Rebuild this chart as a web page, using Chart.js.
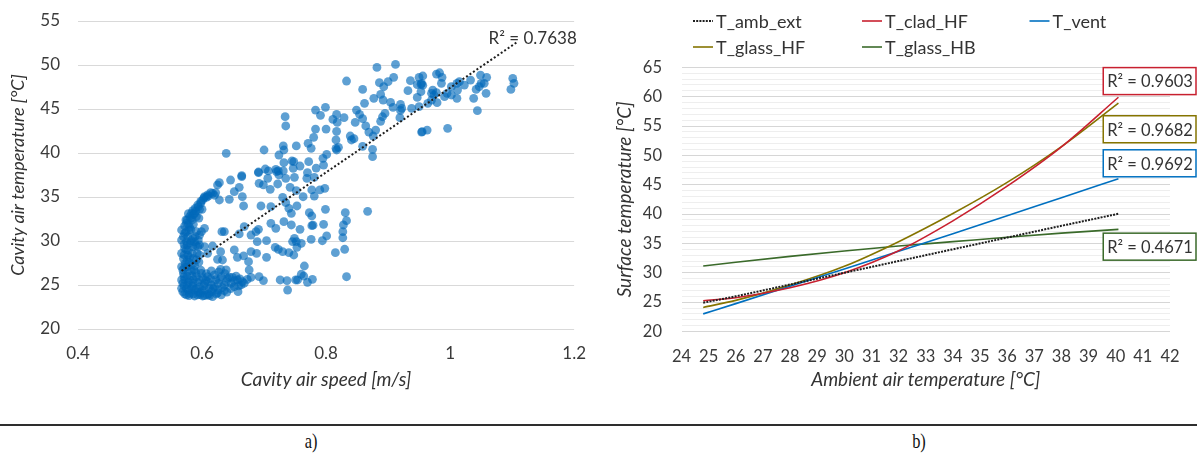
<!DOCTYPE html>
<html>
<head>
<meta charset="utf-8">
<title>Cavity air and surface temperatures</title>
<script src="https://cdn.jsdelivr.net/npm/chart.js@4.4.1/dist/chart.umd.min.js"></script>
<style>
  html, body { margin: 0; padding: 0; background: #fff; }
  #wrap { position: relative; width: 1197px; height: 455px; overflow: hidden; background: #fff; }
  #speedChart { position: absolute; left: 0; top: 0; }
  #surfChart { position: absolute; left: 600px; top: 0; }
  #rule { position: absolute; left: 0; top: 424px; width: 1197px; height: 2px; background: #2e2e2e; }
  .cap { position: absolute; top: 429px; width: 40px; text-align: center; font-family: "Liberation Serif", "DejaVu Serif", serif;
         font-size: 21px; line-height: 24px; color: #111; transform: scaleX(0.78); }
</style>
</head>
<body>
<div id="wrap">
  <canvas id="speedChart" width="600" height="400"></canvas>
  <canvas id="surfChart" width="597" height="400"></canvas>
  <div id="rule"></div>
  <div class="cap" style="left:291px">a)</div>
  <div class="cap" style="left:899px">b)</div>
</div>
<script>
// ---------- a) cavity air speed vs cavity air temperature ----------
const airSpeed = [
  0.769,0.781,0.752,0.763,0.777,0.781,0.790,0.798,0.773,0.777,0.799,0.831,0.867,0.833,0.828,0.827,0.827,0.777,0.779,0.796,
  0.758,0.801,0.794,0.776,0.752,0.760,0.753,0.815,0.830,0.765,0.760,0.764,0.778,0.770,0.751,0.833,
  0.882,0.912,0.833,0.859,0.886,0.900,0.909,0.893,0.936,0.950,0.953,0.947,0.932,0.888,0.877,0.892,0.862,0.904,0.920,0.908,
  0.922,0.938,0.947,0.783,0.799,0.791,0.817,0.811,0.818,0.829,0.849,0.854,0.847,0.859,0.864,0.869,0.876,0.839,0.845,0.880,
  0.888,0.891,0.895,0.920,0.919,0.954,0.783,0.800,0.780,0.771,0.776,0.752,0.817,0.816,0.820,0.817,0.841,0.859,0.875,0.875,
  0.801,0.795,0.796,0.784,0.772,0.758,0.770,0.816,0.748,
  0.734,0.735,0.639,0.700,0.731,0.732,0.724,0.732,0.745,0.747,0.702,0.707,0.719,0.723,0.731,0.691,0.664,
  0.956,0.954,0.953,0.978,0.983,0.987,0.986,0.972,0.970,0.974,0.978,0.970,0.964,0.979,0.991,0.995,1.002,1.011,1.015,1.012,
  1.023,1.033,1.011,1.042,1.038,1.047,1.050,1.055,1.059,1.049,1.058,1.044,1.101,1.103,1.098,0.955,0.963,0.996,0.950,1.002,0.956,
  0.628,0.625,0.646,0.664,0.660,0.691,0.692,0.699,0.706,0.710,0.722,0.724,0.735,0.742,0.749,0.720,0.604,0.609,0.617,0.622,
  0.628,0.644,0.652,0.665,0.667,0.695,0.711,0.730,0.735,0.740,0.744,0.753,
  0.572,0.575,0.576,0.580,0.583,0.585,0.589,0.593,0.598,0.601,0.607,0.588,0.584,0.580,0.596,0.591,
  0.572,0.577,0.575,0.582,0.572,0.578,0.585,0.571,0.580,0.573,0.583,0.591,0.569,0.577,0.587,0.571,0.580,0.569,0.575,0.569,
  0.580,0.588,0.593,0.601,0.585,0.596,0.599,0.591,0.604,0.585,0.593,
  0.599,0.609,0.620,0.631,0.641,0.649,0.657,0.673,0.692,0.679,0.604,0.615,0.626,0.636,0.647,0.663,0.604,0.615,0.626,0.636,
  0.617,0.631,0.658,0.676,0.726,0.737,0.738,0.754,
  0.617,0.630,0.632,0.636,0.652,0.657,0.667,0.675,0.679,0.688,0.704,0.723,0.730,0.660,0.668,0.687,0.691,0.679,0.689,0.704,
  0.711,0.719,0.732,0.744,0.749,0.746,0.596,0.609,0.625,0.633,0.630,0.639,0.604,
  0.567,0.567,0.567,0.567,0.567,0.567,0.576,0.584,0.576,0.576,0.584,0.576,0.583,0.575,0.588,0.596,0.596,0.609,0.591,0.612,
  0.620,0.628,0.639,0.652,0.665,0.598,0.608,0.623,
  0.718,0.740,0.748,0.699,0.596,
  0.570,0.574,0.579,0.571,0.575,0.581,0.588,0.570,0.577,0.586,0.572,0.579,0.588,0.570,0.576,0.583,0.590,0.572,0.578,0.586,
  0.593,0.571,0.578,0.585,0.591,0.572,0.579,0.586,0.594,0.597,0.600,0.603,0.606,0.601,0.598,0.595,0.592,0.590,0.594,0.582,0.589,
  0.611,0.618,0.625,0.633,0.640,0.646,0.652,0.659,0.661,0.668,0.644,0.622,0.614,0.607,0.615,0.627,0.637,0.655,0.612,0.604,
  0.578,0.582,0.586,0.590,0.594,0.598,0.603,0.610,0.614,0.620,0.586,0.595,0.574,0.578,0.600
];
const airTemp = [
  37.12,37.24,35.72,35.03,35.80,35.11,35.80,35.99,33.22,32.84,33.60,33.22,33.37,32.31,31.82,31.06,30.37,31.74,31.80,31.90,
  31.33,30.57,30.03,30.19,29.92,29.74,29.28,28.67,29.06,27.16,26.22,26.02,25.65,25.31,25.57,25.94,
  49.73,50.07,48.18,47.23,47.99,48.10,48.60,47.53,48.22,48.60,47.80,47.76,47.08,46.66,46.21,46.02,45.64,45.75,45.53,45.19,
  45.07,45.07,46.32,44.88,45.19,44.28,44.39,43.82,43.48,44.01,44.88,44.39,43.48,43.90,43.07,42.38,41.93,41.93,41.63,42.61,
  43.60,44.12,44.50,44.84,44.01,42.38,42.72,42.72,41.78,41.10,40.53,40.80,42.46,41.48,40.64,40.34,41.48,40.76,40.42,39.58,
  39.84,39.39,38.63,38.29,39.01,38.52,37.76,40.53,39.01,
  44.13,43.07,39.96,40.34,40.80,40.34,39.77,38.90,39.09,38.26,38.18,37.96,38.14,37.96,37.96,37.84,37.43,
  48.75,47.92,46.97,48.97,49.12,48.60,47.92,47.15,46.78,46.59,46.85,46.02,45.64,45.72,46.40,46.78,47.53,47.92,48.10,47.15,
  47.72,48.29,46.21,47.23,46.21,47.53,47.92,47.92,48.60,48.86,46.78,44.81,48.48,47.92,47.23,42.42,42.61,42.80,45.26,46.59,47.70,
  36.63,36.37,36.93,37.31,36.10,37.77,36.55,36.37,37.12,35.87,36.48,37.50,37.12,36.10,37.24,37.88,35.04,35.23,35.42,35.50,
  34.66,34.74,35.61,35.04,33.98,33.98,33.90,34.96,34.36,33.71,33.15,33.98,
  31.71,32.01,32.39,32.77,33.15,33.45,33.71,34.09,34.28,34.66,34.96,33.15,32.39,31.55,33.60,32.77,
  30.87,30.49,29.93,30.04,29.17,28.98,29.36,28.41,28.15,27.46,27.27,27.84,26.71,26.52,26.71,25.95,25.57,25.19,24.62,24.24,
  24.05,24.43,23.87,23.75,25.19,30.68,31.06,31.06,31.44,30.30,29.36,
  26.33,25.95,26.14,25.95,25.76,25.87,25.57,25.65,25.95,25.87,25.19,25.00,25.19,25.00,25.19,25.00,24.43,24.24,24.43,24.36,
  23.68,23.87,24.24,26.71,25.57,25.50,24.43,25.57,
  29.43,28.79,31.06,31.06,28.98,28.15,28.30,27.65,28.79,28.60,28.15,29.05,28.79,30.80,31.63,31.06,31.33,30.68,29.93,30.04,
  32.01,31.44,32.20,31.82,30.30,29.93,28.41,28.60,27.92,27.84,26.78,26.71,29.36,
  31.25,30.11,28.60,27.08,25.57,24.62,29.55,28.60,27.84,27.08,26.03,25.00,24.62,23.87,23.75,24.81,25.57,25.38,25.95,24.62,
  24.81,25.57,25.38,24.81,25.38,24.13,23.87,23.98,
  29.28,28.68,28.41,25.50,29.55,
  30.50,31.00,31.20,29.60,29.00,29.80,29.90,28.00,28.40,28.00,27.00,27.60,27.20,26.30,26.00,26.60,26.40,25.60,25.30,25.60,
  25.30,24.90,24.40,24.90,24.60,24.00,23.80,24.00,24.20,23.90,24.40,24.90,25.50,25.80,26.70,27.60,28.60,29.50,30.10,31.30,30.50,
  24.00,24.60,24.10,24.70,24.20,24.60,25.50,24.90,25.70,25.20,25.90,25.60,25.70,26.30,26.60,26.50,26.30,26.00,23.80,23.80,
  31.90,32.60,33.00,33.40,33.90,34.50,34.90,35.10,35.50,35.20,31.90,32.60,32.40,33.10,33.60
];
// linear trend line through the cloud
const trendSpeed = [0.567, 1.108];
const trendTemp = [26.6, 52.6];
const speedTicks = [0.4, 0.6, 0.8, 1, 1.2];
const cavityTempTicks = [20, 25, 30, 35, 40, 45, 50, 55];
const cavityR2 = 'R\u00B2 = 0.7638';

// ---------- b) ambient air temperature vs surface temperature ----------
const ambientTemp = [24.8, 26, 28, 30, 32, 34, 36, 38, 40.1];
const tAmbExt   = [24.9, 26.0, 28.0, 30.0, 32.0, 34.0, 36.0, 38.0, 40.05];
const tCladHF   = [25.25, 25.75, 27.45, 30.0, 33.75, 38.85, 44.75, 51.45, 59.9];
const tVent     = [23.0, 24.75, 27.7, 30.65, 33.65, 36.65, 39.7, 42.8, 46.0];
const tGlassHF  = [24.1, 25.3, 27.9, 31.1, 35.3, 40.1, 45.4, 51.5, 58.9];
const tGlassHB  = [31.15, 31.8, 32.8, 33.7, 34.55, 35.3, 36.05, 36.75, 37.4];
const seriesNames = ['T_amb_ext', 'T_clad_HF', 'T_vent', 'T_glass_HF', 'T_glass_HB'];
const surfaceR2 = ['0.9603', '0.9682', '0.9692', '0.4671'];
const ambientTicks = [24,25,26,27,28,29,30,31,32,33,34,35,36,37,38,39,40,41,42];

Chart.defaults.font.family = 'Lato, "Open Sans", "Noto Sans", sans-serif';
Chart.defaults.color = '#3a3a3a';

const toPoints = (xs, ys) => xs.map((x, i) => ({ x: x, y: ys[i] }));

// fixed axis sizes so both plot areas sit where the figure puts them
const fixWidth = w => (scale) => { scale.width = w; };
const fixHeight = h => (scale) => { scale.height = h; };

// ---- text label for the cavity trend line ----
const cavityLabel = {
  id: 'cavityLabel',
  afterDatasetsDraw(chart, args, opts) {
    const { ctx, scales: { x, y } } = chart;
    ctx.save();
    ctx.font = opts.font;
    ctx.fillStyle = opts.color;
    ctx.textBaseline = 'middle';
    ctx.textAlign = 'left';
    ctx.fillText(opts.text, x.getPixelForValue(opts.at[0]), y.getPixelForValue(opts.at[1]));
    ctx.restore();
  }
};

new Chart(document.getElementById('speedChart'), {
  type: 'scatter',
  data: {
    datasets: [
      {
        label: 'Trend',
        data: toPoints(trendSpeed, trendTemp),
        showLine: true,
        pointRadius: 0,
        borderColor: '#1e1e1e',
        borderWidth: 2,
        borderDash: [2, 2.2],
        order: 0
      },
      {
        label: 'Cavity air',
        data: toPoints(airSpeed, airTemp),
        pointRadius: 4.4,
        pointBorderWidth: 0,
        backgroundColor: 'rgba(0, 105, 185, 0.63)',
        borderColor: 'rgba(0, 105, 185, 0)',
        order: 1
      }
    ]
  },
  options: {
    responsive: false,
    animation: false,
    events: [],
    layout: { padding: { left: 0, top: 21, right: 23, bottom: 0 } },
    plugins: {
      legend: { display: false },
      tooltip: { enabled: false },
      cavityLabel: { text: cavityR2, at: [1.062, 53.0], font: '17px Lato, sans-serif', color: '#333' }
    },
    scales: {
      x: {
        type: 'linear',
        min: 0.4, max: 1.2,
        afterBuildTicks: (s) => { s.ticks = speedTicks.map(v => ({ value: v })); },
        afterFit: fixHeight(71),
        grid: { display: false, drawTicks: false },
        border: { display: false },
        ticks: { padding: 14, font: { size: 17 }, color: '#3a3a3a', maxRotation: 0,
                 callback: (v) => String(+(+v).toFixed(2)) },
        title: { display: true, text: 'Cavity air speed [m/s]', color: '#333',
                 font: { size: 19, style: 'italic' }, padding: { top: 0, bottom: 8.6 } }
      },
      y: {
        type: 'linear',
        min: 20, max: 55,
        afterBuildTicks: (s) => { s.ticks = cavityTempTicks.map(v => ({ value: v })); },
        afterFit: fixWidth(78),
        grid: { color: '#d9d9d9', lineWidth: 1, drawTicks: true, tickLength: 18, tickColor: 'rgba(0,0,0,0)' },
        border: { display: false },
        ticks: { padding: 0, font: { size: 17 }, color: '#3a3a3a' },
        title: { display: true, text: 'Cavity air temperature [\u00B0C]', color: '#333',
                 font: { size: 18, style: 'italic' }, padding: { top: 7.7, bottom: 0 } }
      }
    }
  },
  plugins: [cavityLabel]
});

// ---- legend laid out as a grid of line samples ----
const seriesKey = {
  id: 'seriesKey',
  afterDraw(chart, args, opts) {
    const ctx = chart.ctx;
    ctx.save();
    ctx.font = opts.font;
    ctx.textBaseline = 'middle';
    ctx.textAlign = 'left';
    chart.data.datasets.forEach((ds, i) => {
      const [cx, cy] = opts.cells[i];
      ctx.beginPath();
      ctx.setLineDash(ds.borderDash || []);
      ctx.strokeStyle = ds.borderColor;
      ctx.lineWidth = ds.borderWidth;
      ctx.moveTo(cx, cy);
      ctx.lineTo(cx + opts.sample, cy);
      ctx.stroke();
      ctx.setLineDash([]);
      ctx.fillStyle = opts.color;
      ctx.fillText(ds.label, cx + opts.sample + opts.gap, cy + 1);
    });
    ctx.restore();
  }
};

// ---- boxed R² labels next to the trend curves ----
const r2Boxes = {
  id: 'r2Boxes',
  afterDraw(chart, args, opts) {
    const { ctx, scales: { x, y } } = chart;
    ctx.save();
    ctx.font = opts.font;
    ctx.textBaseline = 'middle';
    ctx.textAlign = 'left';
    opts.items.forEach(item => {
      const ds = chart.data.datasets[item.series];
      const left = x.getPixelForValue(opts.left);
      const cy = y.getPixelForValue(item.at);
      const right = chart.width - 1;
      const top = cy - opts.height / 2;
      ctx.fillStyle = '#fff';
      ctx.fillRect(left, top, right - left, opts.height);
      ctx.lineWidth = 1.5;
      ctx.strokeStyle = ds.borderColor;
      ctx.strokeRect(left, top, right - left, opts.height);
      ctx.fillStyle = opts.color;
      ctx.fillText('R\u00B2 = ' + item.text, left + 4, cy + 1);
    });
    ctx.restore();
  }
};

const lineSeries = (i, values, color, extra) => Object.assign({
  label: seriesNames[i],
  data: toPoints(ambientTemp, values),
  borderColor: color,
  borderWidth: 1.6,
  pointRadius: 0,
  cubicInterpolationMode: 'monotone',
  fill: false
}, extra || {});

new Chart(document.getElementById('surfChart'), {
  type: 'line',
  data: {
    datasets: [
      lineSeries(0, tAmbExt, '#1e1e1e', { borderWidth: 2, borderDash: [2, 1.2] }),
      lineSeries(1, tCladHF, '#c8202f'),
      lineSeries(2, tVent, '#0070c0'),
      lineSeries(3, tGlassHF, '#857400'),
      lineSeries(4, tGlassHB, '#3a6a2a')
    ]
  },
  options: {
    responsive: false,
    animation: false,
    events: [],
    layout: { padding: { left: 0, top: 67.3, right: 27, bottom: 0 } },
    plugins: {
      legend: { display: false },
      tooltip: { enabled: false },
      seriesKey: {
        font: '18px Lato, sans-serif', color: '#333', sample: 20, gap: 3,
        cells: [[93, 21], [262, 21], [429.5, 21], [93, 47], [262, 47]]
      },
      r2Boxes: {
        font: '16.5px Lato, sans-serif', color: '#333', left: 39.54, height: 27,
        items: [
          { series: 1, text: surfaceR2[0], at: 62.65 },
          { series: 3, text: surfaceR2[1], at: 54.45 },
          { series: 2, text: surfaceR2[2], at: 48.65 },
          { series: 4, text: surfaceR2[3], at: 34.45 }
        ]
      }
    },
    scales: {
      x: {
        type: 'linear',
        min: 24, max: 42,
        afterBuildTicks: (s) => { s.ticks = ambientTicks.map(v => ({ value: v })); },
        afterFit: fixHeight(68.5),
        grid: { display: false, drawTicks: false },
        border: { display: false },
        ticks: { padding: 15, font: { size: 16.5 }, color: '#3a3a3a', maxRotation: 0, autoSkip: false },
        title: { display: true, text: 'Ambient air temperature [\u00B0C]', color: '#333',
                 font: { size: 19, style: 'italic' }, padding: { top: 0, bottom: 8.6 } }
      },
      y: {
        type: 'linear',
        min: 20, max: 65,
        ticks: {
          stepSize: 1, autoSkip: false, padding: 0, font: { size: 16.5 }, color: '#3a3a3a',
          callback: (v) => (v % 5 === 0 ? String(v) : '')
        },
        afterFit: fixWidth(81.5),
        grid: {
          drawTicks: true, tickLength: 19.5, tickColor: 'rgba(0,0,0,0)',
          lineWidth: 1,
          color: (c) => (c.tick && c.tick.value % 5 === 0 ? '#d6d6d6' : '#eeeeee')
        },
        border: { display: false },
        title: { display: true, text: 'Surface temperature [\u00B0C]', color: '#333',
                 font: { size: 19, style: 'italic' }, padding: { top: 13.4, bottom: 0 } }
      }
    }
  },
  plugins: [seriesKey, r2Boxes]
});
</script>
</body>
</html>
